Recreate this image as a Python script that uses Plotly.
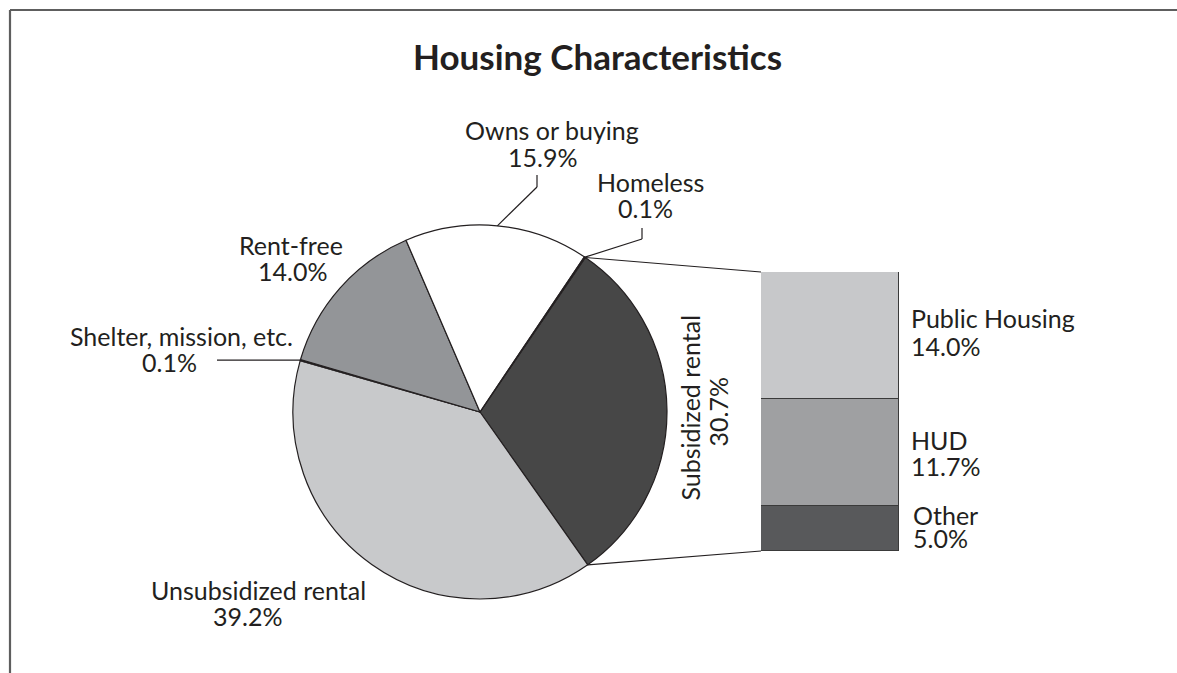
import math
import plotly.graph_objects as go

# ---------------- data ----------------
categories = ["Subsidized rental", "Unsubsidized rental", "Shelter, mission, etc.",
              "Rent-free", "Owns or buying", "Homeless"]
shares = [30.7, 39.2, 0.1, 14.0, 15.9, 0.1]
slice_colors = ["#474747", "#c8c9cb", "#ffffff", "#939598", "#ffffff", "#ffffff"]

sub_categories = ["Other", "HUD", "Public Housing"]   # bottom -> top
sub_shares = [5.0, 11.7, 14.0]
sub_colors = ["#58595b", "#9fa0a2", "#c7c8ca"]

title_text = "Housing Characteristics"

# ---------------- layout geometry (pixels) ----------------
W, H = 1177, 673
def px(x): return x / W
def py(y): return 1 - y / H

FONT = "Lato"
TXT = "#231f20"
FS = 25

cx, cy, R = 480, 412, 187          # pie centre / radius in px
rotation = 34.3                    # degrees clockwise from 12 o'clock
stack_x0, stack_x1, stack_top, stack_bot = 761, 899, 272, 551

fig = go.Figure()

fig.add_trace(go.Pie(
    labels=categories, values=shares, sort=False, direction="clockwise",
    rotation=rotation,
    marker=dict(colors=slice_colors, line=dict(color="#231f20", width=1.2)),
    textinfo="none", hoverinfo="label+value", showlegend=False,
    domain=dict(x=[px(cx - R), px(cx + R)], y=[py(cy + R), py(cy - R)]),
))

for name, val, col in zip(sub_categories, sub_shares, sub_colors):
    fig.add_trace(go.Bar(
        x=["Subsidized rental"], y=[val], name=name, width=1,
        marker=dict(color=col, line=dict(color="#3a3a3a", width=1.2)),
        xaxis="x", yaxis="y", showlegend=False, hoverinfo="name+y",
    ))

total = sum(shares)
def edge_point(angle_deg, r=R):
    a = math.radians(angle_deg)
    return cx + r * math.sin(a), cy - r * math.cos(a)

# cumulative angles
starts = []
acc = rotation
for v in shares:
    starts.append(acc)
    acc += v / total * 360
mids = [s + v / total * 180 for s, v in zip(starts, shares)]

shapes = []
def line(x0, y0, x1, y1, color="#231f20", width=1.2):
    shapes.append(dict(type="line", xref="paper", yref="paper",
                       x0=px(x0), y0=py(y0), x1=px(x1), y1=py(y1),
                       line=dict(color=color, width=width)))

# connectors from subsidized slice to stack
sub_idx = categories.index("Subsidized rental")
p_top = edge_point(starts[sub_idx])
p_bot = edge_point(starts[sub_idx] + shares[sub_idx] / total * 360)
line(p_top[0], p_top[1], stack_x0, stack_top)
line(p_bot[0], p_bot[1], stack_x0, stack_bot)

# leader lines
o = edge_point(mids[categories.index("Owns or buying")])
line(o[0], o[1], 537, 187); line(537, 187, 537, 175)
h = edge_point(mids[categories.index("Homeless")])
line(h[0], h[1], 642, 239); line(642, 239, 642, 228)
s = edge_point(mids[categories.index("Shelter, mission, etc.")])
line(217, s[1], s[0], s[1])

# frame
line(10, 10, W, 10, color="#5e5e5e", width=2.2)
line(10, 10, 10, H, color="#5e5e5e", width=2.2)

ann = []
def text(t, x, baseline, xanchor="center", size=FS, bold=False, angle=0):
    if bold:
        t = "<b>" + t + "</b>"
    ann.append(dict(text=t, x=px(x), y=py(baseline - 0.3 * size), xref="paper", yref="paper",
                    xanchor=xanchor, yanchor="middle", showarrow=False,
                    font=dict(family=FONT, size=size, color=TXT), textangle=angle))

fmt = lambda v: f"{v:.1f}%"
pct = dict(zip(categories, shares))
spct = dict(zip(sub_categories, sub_shares))

text(title_text, 597, 66, size=35, bold=True)
text("Owns or buying", 552, 138); text(fmt(pct["Owns or buying"]), 542, 164)
text("Homeless", 650, 190); text(fmt(pct["Homeless"]), 645, 215)
text("Rent-free", 291, 252); text(fmt(pct["Rent-free"]), 292, 278)
text("Shelter, mission, etc.", 181, 343); text(fmt(pct["Shelter, mission, etc."]), 169, 369)
text("Unsubsidized rental", 258, 597); text(fmt(pct["Unsubsidized rental"]), 247, 623)
text("Public Housing", 909, 325, xanchor="left"); text(fmt(spct["Public Housing"]), 909, 354, xanchor="left")
text("HUD", 909, 447, xanchor="left"); text(fmt(spct["HUD"]), 909, 473, xanchor="left")
text("Other", 911, 522, xanchor="left"); text(fmt(spct["Other"]), 911, 545, xanchor="left")

# rotated label for subsidized rental
ann.append(dict(text="Subsidized rental", x=px(697 - 0.3 * FS), y=py(408), xref="paper", yref="paper",
                xanchor="center", yanchor="middle", showarrow=False, textangle=-90,
                font=dict(family=FONT, size=FS, color=TXT)))
ann.append(dict(text=fmt(pct["Subsidized rental"]), x=px(725 - 0.3 * FS), y=py(412), xref="paper", yref="paper",
                xanchor="center", yanchor="middle", showarrow=False, textangle=-90,
                font=dict(family=FONT, size=FS, color=TXT)))

fig.update_layout(
    width=W, height=H, margin=dict(l=0, r=0, t=0, b=0),
    paper_bgcolor="white", plot_bgcolor="white",
    barmode="stack", bargap=0,
    xaxis=dict(domain=[px(stack_x0), px(stack_x1)], visible=False, range=[-0.5, 0.5]),
    yaxis=dict(domain=[py(stack_bot), py(stack_top)], visible=False,
               range=[0, sum(sub_shares)]),
    shapes=shapes, annotations=ann,
)

fig.write_html("out.html", config={"displayModeBar": False},
               post_script="document.body.style.margin='0px';document.body.style.overflow='hidden';")
